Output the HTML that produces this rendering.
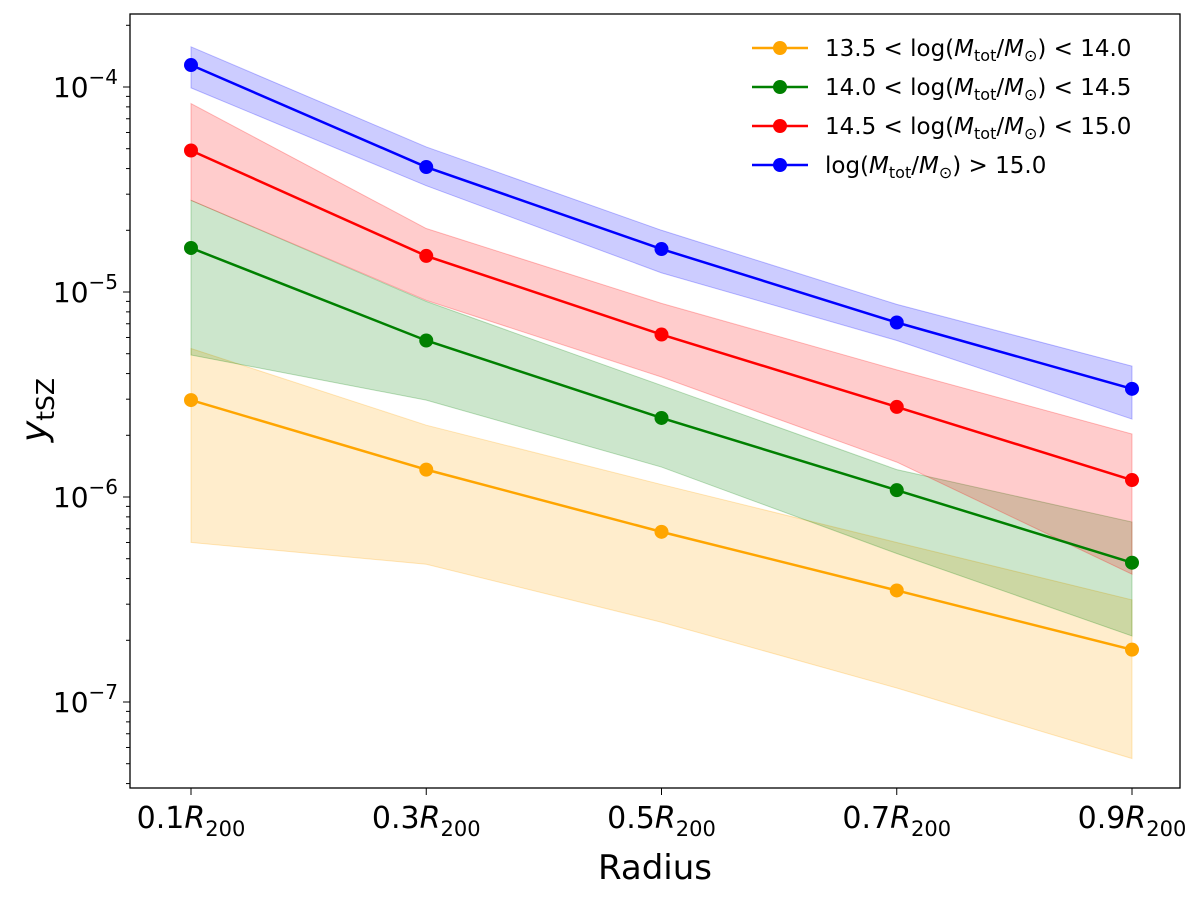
<!DOCTYPE html>
<html><head><meta charset="utf-8"><style>
body{margin:0;background:#fff;}
svg{font-family:"DejaVu Sans","Liberation Sans",sans-serif;}
</style></head><body>
<svg id="chart" width="1200" height="894"></svg>
<script>
const categories=["0.1","0.3","0.5","0.7","0.9"];
const xVals=[0.1,0.3,0.5,0.7,0.9];
const orangeMid=[2.97e-6,1.36e-6,6.76e-7,3.5e-7,1.8e-7];
const orangeHi=[5.3e-6,2.24e-6,1.15e-6,6.0e-7,3.15e-7];
const orangeLo=[6.0e-7,4.7e-7,2.45e-7,1.17e-7,5.3e-8];
const greenMid=[1.64e-5,5.8e-6,2.43e-6,1.08e-6,4.78e-7];
const greenHi=[2.8e-5,9.0e-6,3.5e-6,1.36e-6,7.55e-7];
const greenLo=[4.93e-6,2.97e-6,1.4e-6,5.3e-7,2.1e-7];
const redMid=[4.9e-5,1.5e-5,6.2e-6,2.75e-6,1.21e-6];
const redHi=[8.3e-5,2.04e-5,8.8e-6,4.17e-6,2.03e-6];
const redLo=[2.8e-5,9.1e-6,3.85e-6,1.48e-6,4.2e-7];
const blueMid=[1.28e-4,4.07e-5,1.62e-5,7.1e-6,3.37e-6];
const blueHi=[1.57e-4,5.1e-5,2.0e-5,8.7e-6,4.35e-6];
const blueLo=[9.9e-5,3.3e-5,1.24e-5,5.8e-6,2.4e-6];
const yTickExps=[-4,-5,-6,-7];

const NS="http://www.w3.org/2000/svg";
const svg=document.getElementById('chart');
const L=130,R=1180,T=14,B=788;
function xs(v){return 191+(v-0.1)/0.8*(1132-191);}
function ys(v){return 87+(-4-Math.log10(v))*205;}
function el(tag,attrs,parent){const e=document.createElementNS(NS,tag);for(const k in attrs)e.setAttribute(k,attrs[k]);(parent||svg).appendChild(e);return e;}

const series=[
 {name:'orange',color:'#ffa500',mid:orangeMid,hi:orangeHi,lo:orangeLo},
 {name:'green',color:'#008000',mid:greenMid,hi:greenHi,lo:greenLo},
 {name:'red',color:'#ff0000',mid:redMid,hi:redHi,lo:redLo},
 {name:'blue',color:'#0000ff',mid:blueMid,hi:blueHi,lo:blueLo}
];
series.forEach(s=>{
 let pts=xVals.map((x,i)=>xs(x)+','+ys(s.hi[i]));
 for(let i=xVals.length-1;i>=0;i--)pts.push(xs(xVals[i])+','+ys(s.lo[i]));
 const p=el('polygon',{points:pts.join(' '),fill:s.color,'fill-opacity':0.2,stroke:s.color,'stroke-opacity':0.25});
 
 
});
series.forEach(s=>{
 const l=el('polyline',{points:xVals.map((x,i)=>xs(x)+','+ys(s.mid[i])).join(' '),fill:'none',stroke:s.color,'stroke-width':2.5});
 
 
 xVals.forEach((x,i)=>{
  const c=el('circle',{cx:xs(x),cy:ys(s.mid[i]),r:7,fill:s.color});
  
  
 });
});
const fr=el('rect',{x:L,y:T,width:R-L,height:B-T,fill:'none',stroke:'#000','stroke-width':1.3});


for(let e=-8;e<=-3;e++){
 for(let m=1;m<10;m++){
  const y=ys(m*Math.pow(10,e));
  if(y<T||y>B)continue;
  el('line',{x1:L,x2:L-(m==1?7:4),y1:y,y2:y,stroke:'#000','stroke-width':1});
 }
}
yTickExps.forEach(e=>{
 const t=el('text',{x:L-12,y:ys(Math.pow(10,e))+10,'text-anchor':'end','font-size':28});
 t.innerHTML='10<tspan dy="-13" font-size="20">−'+(-e)+'</tspan>';
 
 
});
categories.forEach((c,i)=>{
 const x=xs(xVals[i]);
 el('line',{x1:x,x2:x,y1:B,y2:B+7,stroke:'#000','stroke-width':1});
 const t=el('text',{x:x,y:B+40,'text-anchor':'middle','font-size':30});
 t.innerHTML=c+'<tspan font-style="italic">R</tspan><tspan dy="8" font-size="21">200</tspan>';
 
 
});
const xt=el('text',{x:655,y:879,'text-anchor':'middle','font-size':34});
xt.textContent='Radius';


const yt=el('text',{x:0,y:0,'text-anchor':'middle','font-size':36,transform:'translate(46,410) rotate(-90)'});
yt.innerHTML='<tspan font-style="italic">y</tspan><tspan dy="8" font-size="25">tSZ</tspan>';


const lg=el('g',{});


const labels=[['13.5 < log(',') < 14.0'],['14.0 < log(',') < 14.5'],['14.5 < log(',') < 15.0'],['log(',') > 15.0']];
series.forEach((s,i)=>{
 const y=48+i*39;
 el('line',{x1:752,x2:808,y1:y,y2:y,stroke:s.color,'stroke-width':2.5},lg);
 el('circle',{cx:780,cy:y,r:7,fill:s.color},lg);
 const a=labels[i];
 const t=el('text',{x:825,y:y+8,'font-size':23,textLength:null},lg);
 t.removeAttribute('textLength');
 t.innerHTML=a[0]+'<tspan font-style="italic">M</tspan><tspan dy="5" font-size="16">tot</tspan><tspan dy="-5">/</tspan><tspan font-style="italic">M</tspan><tspan dy="5" font-size="16">⊙</tspan><tspan dy="-5">'+a[1]+'</tspan>';
 
 
});
</script>
</body></html>
